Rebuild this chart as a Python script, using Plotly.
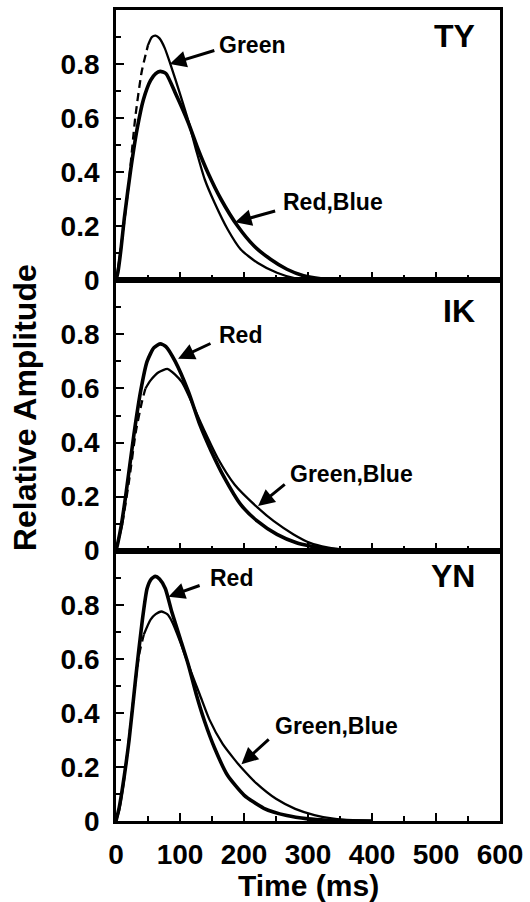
import plotly.graph_objects as go
from plotly.subplots import make_subplots

# ---------------- data (time in ms, relative amplitude) ----------------
# Panel TY
ty_rb_t = [0, 3, 8, 13, 23, 33, 43, 54, 62, 69, 78, 92.5, 113, 128.4, 143.8, 164.3, 190, 215.8, 241.4, 267, 293, 320, 350, 400]
ty_rb_v = [0, 0.03, 0.12, 0.23, 0.41, 0.56, 0.67, 0.74, 0.765, 0.773, 0.765, 0.694, 0.583, 0.484, 0.397, 0.299, 0.201, 0.127, 0.078, 0.041, 0.017, 0.006, 0.002, 0]
ty_g_start_t = [0, 3, 6]
ty_g_start_v = [0, 0.04, 0.09]
ty_g_dash_t = [6, 12, 20, 30, 40, 50]
ty_g_dash_v = [0.09, 0.2, 0.36, 0.6, 0.77, 0.87]
ty_g_t = [50, 56, 62, 68, 76, 85, 100, 113, 126, 138.7, 154, 174.6, 195, 221, 251.5, 282, 310, 350, 400]
ty_g_v = [0.87, 0.9, 0.905, 0.895, 0.86, 0.80, 0.69, 0.59, 0.475, 0.373, 0.287, 0.188, 0.114, 0.065, 0.028, 0.006, 0.001, 0, 0]

# Panel IK
ik_r_t = [0, 3, 8, 15, 28, 38.5, 48.6, 59, 69, 78, 92.5, 113, 131, 149, 169.5, 195, 221, 251.5, 282, 303, 330, 360, 400]
ik_r_v = [0, 0.03, 0.09, 0.2, 0.43, 0.59, 0.70, 0.75, 0.765, 0.755, 0.70, 0.589, 0.466, 0.367, 0.269, 0.17, 0.109, 0.06, 0.029, 0.017, 0.006, 0.001, 0]
ik_gb_start_t = [0, 4, 10]
ik_gb_start_v = [0, 0.04, 0.1]
ik_gb_dash_t = [10, 20.5, 31, 41, 46]
ik_gb_dash_v = [0.1, 0.26, 0.44, 0.556, 0.6]
ik_gb_t = [46, 54, 66.6, 81, 102.6, 118, 138.7, 159, 185.5, 221, 246.6, 277.5, 303, 330, 360, 400]
ik_gb_v = [0.6, 0.63, 0.66, 0.672, 0.625, 0.55, 0.441, 0.342, 0.244, 0.16, 0.109, 0.06, 0.029, 0.012, 0.003, 0]

# Panel YN
yn_r_t = [0, 5, 10, 20.5, 30.8, 41, 48.6, 55, 61.5, 68, 77, 87, 100, 113, 125.6, 138.5, 154, 174, 200, 231, 267, 300, 330, 360, 400]
yn_r_v = [0, 0.05, 0.12, 0.3, 0.53, 0.74, 0.86, 0.895, 0.905, 0.895, 0.86, 0.775, 0.677, 0.578, 0.467, 0.368, 0.27, 0.17, 0.096, 0.047, 0.02, 0.008, 0.003, 0.001, 0]
yn_gb_start_t = [0, 5, 12]
yn_gb_start_v = [0, 0.04, 0.14]
yn_gb_dash_t = [12, 18, 28, 36, 43.5]
yn_gb_dash_v = [0.14, 0.257, 0.467, 0.615, 0.69]
yn_gb_t = [43.5, 54, 62, 70.7, 80, 87, 100, 115, 131, 146, 166.6, 185, 195, 220, 250, 280, 310, 340, 370, 400]
yn_gb_v = [0.69, 0.745, 0.765, 0.775, 0.765, 0.74, 0.665, 0.566, 0.467, 0.375, 0.285, 0.228, 0.2, 0.138, 0.082, 0.045, 0.022, 0.009, 0.003, 0]

panel_names = ["TY", "IK", "YN"]
x_ticks = [0, 100, 200, 300, 400, 500, 600]
y_ticks = [0, 0.2, 0.4, 0.6, 0.8]
y_tick_text = ["0", "0.2", "0.4", "0.6", "0.8"]

FONT = "Liberation Sans, Arial, Helvetica, sans-serif"
THICK = 3.6
THIN = 2.3

fig = make_subplots(rows=3, cols=1, shared_xaxes=True, vertical_spacing=0)

def add_line(row, t, v, width, dash="solid"):
    fig.add_trace(go.Scatter(x=t, y=v, mode="lines",
                             line=dict(color="black", width=width, dash=dash, shape="spline", smoothing=0.6),
                             showlegend=False, hoverinfo="skip"), row=row, col=1)

# TY
add_line(1, ty_rb_t, ty_rb_v, THICK)
add_line(1, ty_g_start_t, ty_g_start_v, THIN)
add_line(1, ty_g_dash_t, ty_g_dash_v, THIN, "8px,5px")
add_line(1, ty_g_t, ty_g_v, THIN)
# IK
add_line(2, ik_r_t, ik_r_v, THICK)
add_line(2, ik_gb_start_t, ik_gb_start_v, THIN)
add_line(2, ik_gb_dash_t, ik_gb_dash_v, THIN, "8px,5px")
add_line(2, ik_gb_t, ik_gb_v, THIN)
# YN
add_line(3, yn_r_t, yn_r_v, THICK)
add_line(3, yn_gb_start_t, yn_gb_start_v, THIN)
add_line(3, yn_gb_dash_t, yn_gb_dash_v, THIN, "8px,5px")
add_line(3, yn_gb_t, yn_gb_v, THIN)

for r in (1, 2, 3):
    fig.update_xaxes(range=[0, 600], tickvals=x_ticks, ticks="inside", ticklen=8, tickwidth=2,
                     tickcolor="black", showline=True, linecolor="black", linewidth=2.8, mirror=True,
                     showgrid=False, zeroline=False,
                     minor=dict(dtick=50, ticks="inside", ticklen=5, tickwidth=2, tickcolor="black"),
                     showticklabels=(r == 3),
                     tickfont=dict(family=FONT, size=28, color="black", weight="bold"),
                     ticklabelstandoff=6,
                     row=r, col=1)
    fig.update_yaxes(range=[0, 1.0], tickvals=y_ticks, ticktext=y_tick_text, ticks="inside", ticklen=8,
                     tickwidth=2, tickcolor="black", showline=True, linecolor="black", linewidth=2.8,
                     mirror=True, showgrid=False, zeroline=False,
                     minor=dict(dtick=0.1, ticks="inside", ticklen=5, tickwidth=2, tickcolor="black"),
                     tickfont=dict(family=FONT, size=28, color="black", weight="bold"),
                     ticklabelstandoff=8,
                     row=r, col=1)

ann = []
# panel labels
for i, name in enumerate(panel_names):
    yref = "y domain" if i == 0 else f"y{i+1} domain"
    xref = "x domain" if i == 0 else f"x{i+1} domain"
    ann.append(dict(text=name, x=0.94, y=[0.905, 0.885, 0.905][i], xref=xref, yref=yref,
                    xanchor="right", yanchor="middle", showarrow=False,
                    font=dict(family=FONT, size=32, color="black", weight="bold")))

def arrow(row, tip, tail):
    xr = "x" if row == 1 else f"x{row}"
    yr = "y" if row == 1 else f"y{row}"
    ann.append(dict(x=tip[0], y=tip[1], ax=tail[0], ay=tail[1], xref=xr, yref=yr,
                    axref=xr, ayref=yr, text="", showarrow=True, arrowhead=2,
                    arrowsize=1.1, arrowwidth=3, arrowcolor="black"))

def label(row, pos, text):
    xr = "x" if row == 1 else f"x{row}"
    yr = "y" if row == 1 else f"y{row}"
    ann.append(dict(x=pos[0], y=pos[1], xref=xr, yref=yr, text=text, showarrow=False,
                    xanchor="left", yanchor="middle",
                    font=dict(family=FONT, size=23, color="black", weight="bold")))

# TY annotations
arrow(1, (84, 0.80), (156, 0.852))
label(1, (158, 0.87), "Green")
arrow(1, (186, 0.215), (251, 0.258))
label(1, (258, 0.29), "Red,Blue")
# IK annotations
arrow(2, (97, 0.71), (150, 0.769))
label(2, (158, 0.797), "Red")
arrow(2, (222, 0.165), (266, 0.25))
label(2, (268, 0.284), "Green,Blue")
# YN annotations
arrow(3, (82, 0.83), (133, 0.873))
label(3, (143, 0.90), "Red")
arrow(3, (196, 0.21), (241, 0.307))
label(3, (246, 0.35), "Green,Blue")

# axis titles
ann.append(dict(text="Relative Amplitude", x=-0.235, y=0.51, xref="paper", yref="paper",
                textangle=-90, showarrow=False, xanchor="center", yanchor="middle",
                font=dict(family=FONT, size=32, color="black", weight="bold")))
ann.append(dict(text="Time (ms)", x=0.5, y=-0.1, xref="paper", yref="paper",
                showarrow=False, xanchor="center", yanchor="bottom", yshift=-2,
                font=dict(family=FONT, size=30, color="black", weight="bold")))

fig.update_layout(width=530, height=902, margin=dict(l=116, r=24, t=7, b=81),
                  paper_bgcolor="white", plot_bgcolor="white", annotations=ann,
                  showlegend=False)

fig.write_html("out.html")
